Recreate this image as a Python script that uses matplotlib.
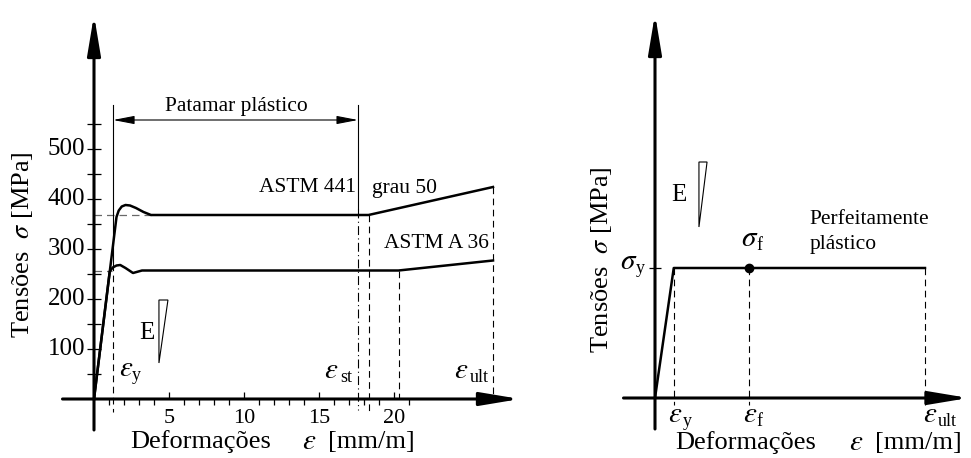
import matplotlib
matplotlib.use('Agg')
import matplotlib.pyplot as plt
import numpy as np

plt.rcParams['font.family'] = ['Liberation Serif', 'DejaVu Serif']
plt.rcParams['mathtext.fontset'] = 'stix'

# --- data (deformation in mm/m, stress in MPa) ---
a36_eps = [0, 1.05, 1.25, 1.5, 1.75, 2.1, 2.6, 3.2, 20.3, 26.6]
a36_sig = [0, 255, 263, 267, 268, 262, 252, 257, 257, 277]

a441_eps = [0, 1.5, 1.65, 1.85, 2.1, 2.4, 2.8, 3.3, 3.8, 18.3, 26.6]
a441_sig = [0, 364, 377, 385, 388, 387, 382, 374, 368, 368, 424]

eps_y_left = 1.27
eps_st = 17.6
eps_st441 = 18.3
eps_st36 = 20.3
eps_ult_left = 26.6

x_major = [5, 10, 15, 20]
x_minor = [1, 2, 3, 4, 6, 7, 8, 9, 11, 12, 13, 14, 16, 17, 18, 19, 21]
y_ticks = [50, 100, 150, 200, 250, 300, 350, 400, 450, 500, 550]
y_labels = [100, 200, 300, 400, 500]

# ideal elastic-perfectly plastic model
pp_sig_y = 260
pp_eps_y = 1.25
pp_eps_f = 6.25
pp_eps_ult = 18.0

BLACK = 'black'
FS_YTICK = 18
FS_XTICK = 16
FS_LABEL = 19
FS_NOTE = 15.5
FS_SYM = 21
FS_SUB = 13
EPS = r'$\varepsilon$'
SIG = r'$\sigma$'


def draw_axes_arrows(ax, xmin, xmax, ymin, ymax):
    head = '-|>,head_length=1.2,head_width=0.2'
    ax.annotate('', xy=(0, ymax), xytext=(0, ymin),
                arrowprops=dict(arrowstyle=head, lw=2.2, color=BLACK,
                                shrinkA=0, shrinkB=0, mutation_scale=20))
    ax.annotate('', xy=(xmax, 0), xytext=(xmin, 0),
                arrowprops=dict(arrowstyle=head, lw=2.2, color=BLACK,
                                shrinkA=0, shrinkB=0, mutation_scale=20))


def stiffness_triangle(ax, xl, xr, ytop, ybot, label_x, label_y):
    ax.fill([xl, xr, xl], [ytop, ytop, ybot], facecolor='white',
            edgecolor=BLACK, lw=0.8, zorder=3)
    ax.text(label_x, label_y, 'E', fontsize=18, ha='center', va='center')


def sym_label(ax, x, y, base, sub, gap=6, drop=5):
    # greek symbol with a small upright subscript (offsets in points)
    ax.text(x, y, base, fontsize=FS_SYM, ha='center', va='center')
    ax.annotate(sub, xy=(x, y), xytext=(gap, -drop), textcoords='offset points',
                fontsize=FS_SUB, ha='left', va='center')


def x_label(ax, x_word, x_eps, x_unit, y):
    ax.text(x_word, y, 'Deformações', fontsize=FS_LABEL, ha='left', va='center')
    ax.text(x_eps, y, EPS, fontsize=FS_SYM, ha='center', va='center')
    ax.text(x_unit, y, '[mm/m]', fontsize=FS_LABEL, ha='left', va='center')


fig = plt.figure(figsize=(9.71, 4.58), dpi=100)

# +--------------------------------------------------------+
# |                      Left panel                        |
# +--------------------------------------------------------+
ax1 = fig.add_axes([0, 0, 560 / 971, 1])
ax1.set_xlim(-94 / 15, (560 - 94) / 15)
ax1.set_ylim(-118, 798)
ax1.axis('off')

draw_axes_arrows(ax1, -2.1, 28.4, -62, 768)

# ticks
ax1.hlines(y_ticks, -0.47, 0.47, color=BLACK, lw=0.9)
ax1.vlines(x_major, 0, 14, color=BLACK, lw=0.9)
ax1.vlines(x_minor, -12, 0, color=BLACK, lw=0.9)
for v in y_labels:
    ax1.text(-0.6, v, str(v), fontsize=FS_YTICK, ha='right', va='center')
for v in x_major:
    ax1.text(v, -20, str(v), fontsize=FS_XTICK, ha='center', va='top')

# curves
ax1.plot(a441_eps, a441_sig, color=BLACK, lw=1.8, solid_joinstyle='round', zorder=4)
ax1.plot(a36_eps, a36_sig, color=BLACK, lw=1.8, solid_joinstyle='round', zorder=4)

dash = (0, (6, 4))
# horizontal guides
ax1.plot([0, 3.8], [a441_sig[-2]] * 2, color='dimgray', lw=0.9, ls=dash)
ax1.plot([0, 1.2], [a36_sig[-2]] * 2, color='dimgray', lw=0.9, ls=dash)

# vertical guides
ax1.plot([eps_y_left] * 2, [588, 270], color=BLACK, lw=0.8)
ax1.plot([eps_y_left] * 2, [270, -26], color=BLACK, lw=0.8, ls=dash)
ax1.plot([eps_st] * 2, [588, 380], color=BLACK, lw=0.8)
ax1.plot([eps_st] * 2, [380, -22], color=BLACK, lw=0.8, ls=(0, (8, 3, 1, 3)))
ax1.plot([eps_st441] * 2, [368, -26], color=BLACK, lw=0.8, ls=dash)
ax1.plot([eps_st36] * 2, [257, 0], color=BLACK, lw=0.8, ls=dash)
ax1.plot([eps_ult_left] * 2, [424, 0], color=BLACK, lw=0.8, ls=dash)

# plastic plateau dimension
ax1.annotate('', xy=(eps_st, 558), xytext=(eps_y_left, 558),
             arrowprops=dict(arrowstyle='<|-|>,head_length=1.3,head_width=0.25',
                             lw=0.8, color=BLACK, shrinkA=0, shrinkB=0,
                             mutation_scale=10))
ax1.text(9.5, 586, 'Patamar plástico', fontsize=FS_NOTE, ha='center', va='center')

ax1.text(17.45, 422, 'ASTM 441', fontsize=FS_NOTE, ha='right', va='center')
ax1.text(18.55, 422, 'grau 50', fontsize=FS_NOTE, ha='left', va='center')
ax1.text(26.35, 310, 'ASTM A 36', fontsize=FS_NOTE, ha='right', va='center')

stiffness_triangle(ax1, 4.33, 4.93, 198, 72, 3.5, 132)

sym_label(ax1, 2.13, 60, EPS, 'y', gap=4.5)
sym_label(ax1, 15.8, 56, EPS, 'st', gap=6.5)
sym_label(ax1, 24.47, 56, EPS, 'ult', gap=6.5)

ax1.text(-4.75, 308, r'Tensões  $\sigma$ [MPa]', fontsize=19, rotation=90,
         ha='center', va='center')
x_label(ax1, 2.4, 14.33, 15.6, -86)

# +--------------------------------------------------------+
# |                      Right panel                       |
# +--------------------------------------------------------+
ax2 = fig.add_axes([560 / 971, 0, 411 / 971, 1])
ax2.set_xlim(-95 / 15, 316 / 15)
ax2.set_ylim(-120, 796)
ax2.axis('off')

draw_axes_arrows(ax2, -2.1, 20.9, -62, 768)

ax2.hlines([pp_sig_y], -0.4, 0.4, color=BLACK, lw=0.9)
ax2.plot([0, pp_eps_y, pp_eps_ult], [0, pp_sig_y, pp_sig_y], color=BLACK, lw=1.8, zorder=4)
ax2.plot([pp_eps_f], [pp_sig_y], 'o', color=BLACK, ms=6, zorder=5)
for e in [pp_eps_y, pp_eps_f, pp_eps_ult]:
    ax2.plot([e, e], [pp_sig_y, -14], color=BLACK, lw=0.8, ls=dash)

sym_label(ax2, -1.75, 272, SIG, 'y', gap=5)
sym_label(ax2, 6.33, 318, SIG, 'f', gap=5)
ax2.text(10.3, 358, 'Perfeitamente', fontsize=FS_NOTE, ha='left', va='center')
ax2.text(10.3, 306, 'plástico', fontsize=FS_NOTE, ha='left', va='center')

stiffness_triangle(ax2, 2.93, 3.47, 472, 342, 1.57, 406)

sym_label(ax2, 1.33, -34, EPS, 'y', gap=6)
sym_label(ax2, 6.33, -34, EPS, 'f', gap=5)
sym_label(ax2, 18.33, -34, EPS, 'ult', gap=6)

ax2.text(-3.55, 276, r'Tensões  $\sigma$ [MPa]', fontsize=19, rotation=90,
         ha='center', va='center')
x_label(ax2, 1.33, 13.4, 14.67, -90)

fig.savefig('out.png', dpi=100)
